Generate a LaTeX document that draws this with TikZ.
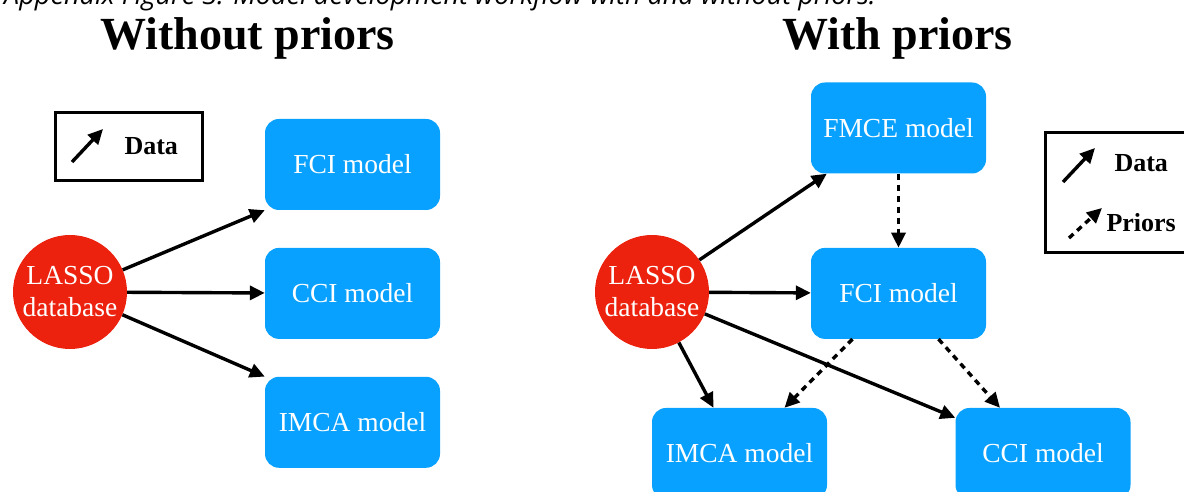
\documentclass[tikz,border=0pt]{standalone}
\usepackage{fontspec}
\setmainfont{Liberation Serif}
\newfontfamily\captionfont{Open Sans}
\usepackage{tikz}
\usetikzlibrary{chains}
\usetikzlibrary{positioning}
\usetikzlibrary{arrows.meta}

\definecolor{modelblue}{RGB}{9,161,255}
\definecolor{lassored}{RGB}{236,33,14}

\begin{document}
\begin{tikzpicture}[
	x=1pt,
	y=1pt,
	start chain=1 going below,
	node distance=37.5pt,
	model/.style={
		rectangle,
		rounded corners=14pt,
		fill=modelblue,
		text=white,
		minimum width=175pt,
		minimum height=91pt,
		font=\fontsize{27.5}{32}\selectfont
		},
	db/.style={
		circle,
		fill=lassored,
		text=white,
		minimum size=114pt,
		inner sep=0pt,
		align=center,
		font=\fontsize{27.5}{32}\selectfont
		},
	title/.style={
		anchor=base,
		font=\bfseries\fontsize{46}{50}\selectfont
		},
	legend/.style={
		draw=black,
		line width=3pt
		},
	key/.style={
		anchor=west,
		font=\bfseries\fontsize{26}{30}\selectfont
		},
	data/.style={
		-{Triangle[length=15pt,width=14pt]},
		line width=3.4pt
		},
	prior/.style={
		data,
		dash pattern=on 6pt off 5pt
		}
]
\useasboundingbox (0,0) rectangle (1184,492);
\clip (0,0) rectangle (1184,492);

% Caption and titles
\node [anchor=base west, inner sep=0pt, font=\captionfont\itshape\fontsize{27}{30}\selectfont] (caption) at (4,487) {Appendix Figure 3: Model development workflow with and without priors.};
\node [title] (without) at (247.5,442) {Without priors};
\node [title] (with) at (897.5,442) {With priors};

% Without priors
\node [db] (lasso a) at (70,200) {LASSO\\database};
\node [model, on chain=1] (fci a) at (352.5,327.5) {FCI model};
\node [model, on chain=1] (cci a) {CCI model};
\node [model, on chain=1] (imca a) {IMCA model};

\node [legend, minimum width=147pt, minimum height=68pt] (key a) at (128.5,345) {};
\coordinate (key a tail) at (72,330);
\coordinate (key a head) at (103,363);
\node [key] (key a data) at (121,346) {Data};
\draw [data] (key a tail) -- (key a head);

\draw [data] (lasso a) -- (fci a.south west);
\draw [data] (lasso a) -- (cci a);
\draw [data] (lasso a) -- (imca a.north west);

% With priors
\node [db] (lasso b) at (652,200) {LASSO\\database};
\node [model] (fmce b) at (898.5,364) {FMCE model};
\node [model, below=74pt of fmce b] (fci b) {FCI model};
\node [model] (imca b) at (739.5,38.5) {IMCA model};
\node [model] (cci b) at (1043,38.5) {CCI model};

\node [legend, minimum width=155pt, minimum height=120pt] (key b) at (1122.5,299) {};
\coordinate (key b data tail) at (1063,310);
\coordinate (key b data head) at (1095,344);
\coordinate (key b prior tail) at (1069,254);
\coordinate (key b prior head) at (1102,284);
\node [key] (key b data) at (1111,329) {Data};
\node [key] (key b prior) at (1103,269) {Priors};
\draw [data] (key b data tail) -- (key b data head);
\draw [prior] (key b prior tail) -- (key b prior head);

\draw [data] (lasso b) -- ([xshift=16pt]fmce b.south west);
\draw [data] (lasso b) -- (fci b);
\draw [data] (lasso b) -- ([xshift=-26pt]imca b.north);
\draw [data] (lasso b) -- ([yshift=-10pt]cci b.north west);

\draw [prior] (fmce b) -- (fci b);
\draw [prior] ([xshift=-46pt]fci b.south) -- ([xshift=45pt]imca b.north);
\draw [prior] ([xshift=40pt]fci b.south) -- ([xshift=-43pt]cci b.north);
\end{tikzpicture}
\end{document}
